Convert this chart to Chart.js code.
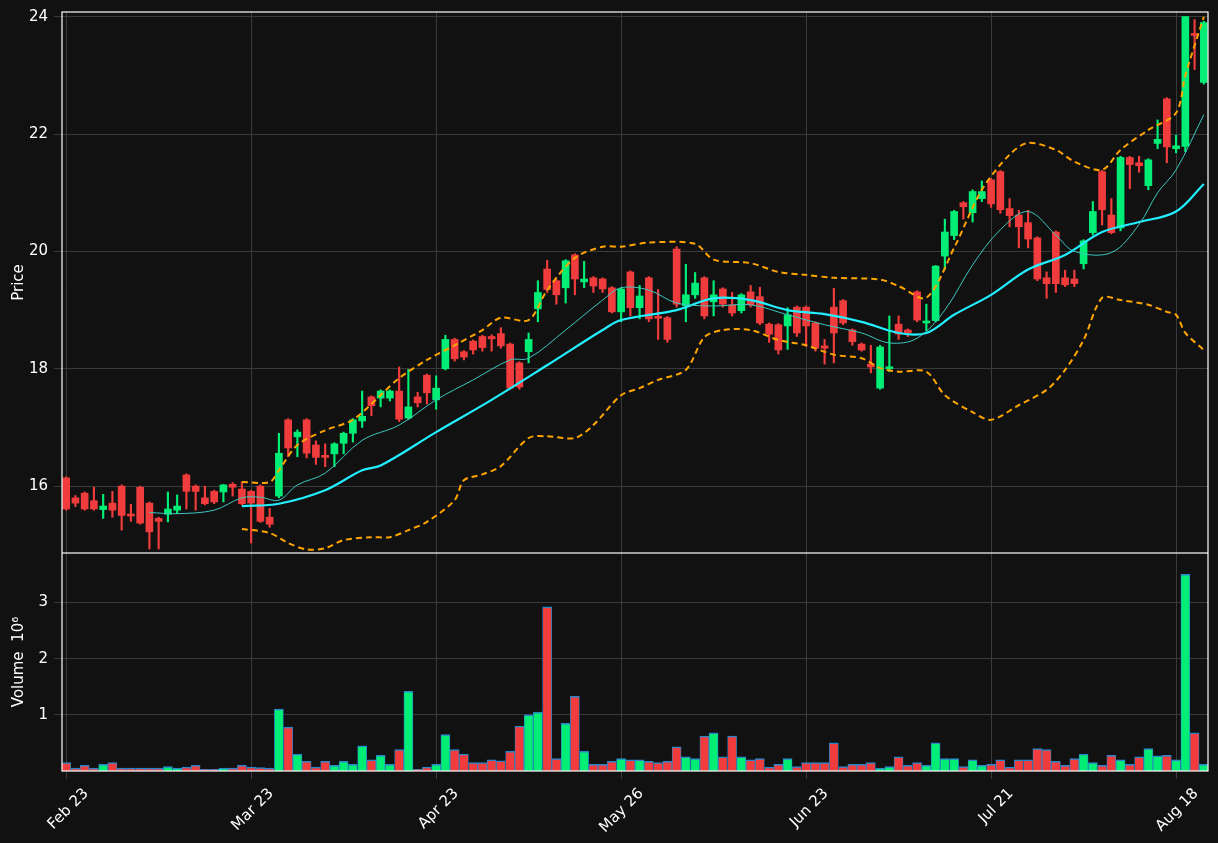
<!DOCTYPE html>
<html><head><meta charset="utf-8">
<script src="https://cdn.jsdelivr.net/npm/chart.js@4.4.1/dist/chart.umd.min.js"></script>
<style>
html,body{margin:0;padding:0;background:#111111;}
#wrap{position:relative;width:1218px;height:843px;}
#c1{position:absolute;left:0;top:0;}
#c2{position:absolute;left:0;top:553px;}
</style></head><body>
<div id="wrap"><canvas id="c1" width="1218" height="553"></canvas><canvas id="c2" width="1218" height="290"></canvas></div>
<script>
const tickLabels = ['Feb 23','Mar 23','Apr 23','May 26','Jun 23','Jul 21','Aug 18'];
const opens = [16.14,15.8,15.88,15.75,15.6,15.71,16.0,15.52,15.98,15.71,15.45,15.52,15.59,16.19,16.0,15.8,15.91,15.9,16.03,15.95,
15.91,16.0,15.47,15.83,17.13,16.84,17.13,16.7,16.51,16.55,16.73,16.9,17.11,17.52,17.5,17.5,17.62,17.16,17.52,17.89,
17.47,18.0,18.5,18.29,18.47,18.55,18.55,18.6,18.42,18.1,18.29,19.02,19.7,19.5,19.38,19.94,19.48,19.55,19.53,19.38,
18.97,19.65,19.04,19.55,18.88,18.87,20.04,19.07,19.26,19.55,19.14,19.36,19.09,18.99,19.31,19.23,18.76,18.75,18.73,19.05,
19.05,18.78,18.39,19.05,19.16,18.66,18.42,18.08,17.67,18.0,18.76,18.66,19.31,18.78,18.82,19.92,20.27,20.83,20.66,20.9,
21.22,21.36,20.73,20.62,20.49,20.23,19.55,20.33,19.55,19.53,19.79,20.32,21.36,20.62,20.4,21.6,21.51,21.12,21.84,22.6,
21.75,21.79,23.7,22.88];
const closes = [15.61,15.71,15.61,15.61,15.66,15.59,15.5,15.49,15.37,15.22,15.4,15.61,15.66,15.91,15.91,15.7,15.73,16.02,15.98,15.7,
15.71,15.4,15.35,16.56,16.65,16.92,16.56,16.49,16.49,16.72,16.9,17.13,17.19,17.37,17.62,17.62,17.14,17.35,17.42,17.59,
17.67,18.5,18.17,18.2,18.32,18.36,18.51,18.39,17.67,17.69,18.5,19.3,19.35,19.26,19.84,19.53,19.53,19.41,19.36,18.97,
19.36,19.04,19.24,18.85,18.86,18.5,19.1,19.26,19.46,18.9,19.26,19.1,18.95,19.26,19.09,18.78,18.59,18.32,18.92,18.61,
18.73,18.35,18.35,18.61,18.78,18.46,18.32,18.03,18.37,18.03,18.59,18.61,18.83,18.8,19.75,20.33,20.68,20.76,21.02,21.02,
20.81,20.71,20.61,20.42,20.21,19.53,19.45,19.45,19.43,19.45,20.18,20.68,20.71,20.32,21.6,21.48,21.46,21.56,21.91,21.78,
21.8,24.0,23.68,23.9];
const highs = [16.16,15.84,15.9,15.98,15.86,15.91,16.02,15.69,16.0,15.73,15.47,15.9,15.85,16.21,16.02,16.0,15.93,16.03,16.06,16.07,
15.93,16.02,15.62,16.9,17.15,16.96,17.15,16.77,16.72,16.74,16.92,17.15,17.62,17.54,17.64,17.64,18.03,17.99,17.6,17.91,
17.88,18.57,18.52,18.31,18.49,18.57,18.58,18.7,18.44,18.12,18.61,19.5,19.85,19.52,19.86,19.96,19.83,19.57,19.55,19.4,
19.38,19.67,19.42,19.57,19.35,18.89,20.08,19.78,19.64,19.57,19.5,19.38,19.3,19.28,19.42,19.39,18.78,18.77,19.04,19.07,
19.07,18.8,18.5,19.37,19.18,18.68,18.44,18.4,18.4,18.9,18.9,18.68,19.33,19.1,19.76,20.55,20.7,20.85,21.05,21.2,
21.24,21.38,20.9,20.7,20.7,20.25,19.65,20.35,19.68,19.68,20.2,20.85,21.38,20.9,21.62,21.62,21.62,21.58,22.24,22.62,
21.98,24.0,23.95,23.92];
const lows = [15.59,15.65,15.59,15.59,15.45,15.47,15.25,15.4,15.35,14.93,14.93,15.39,15.53,15.61,15.59,15.68,15.7,15.73,15.83,15.68,
15.03,15.38,15.3,15.8,16.5,16.5,16.48,16.37,16.33,16.33,16.55,16.75,17.0,17.2,17.35,17.45,17.1,17.14,17.35,17.4,
17.31,17.98,18.13,18.15,18.25,18.3,18.3,18.35,17.65,17.65,18.1,18.8,19.3,19.1,19.12,19.26,19.38,19.3,19.3,18.95,
18.8,18.9,18.85,18.8,18.5,18.45,19.05,18.8,19.2,18.85,18.9,19.05,18.9,18.95,19.05,18.75,18.45,18.25,18.33,18.55,
18.38,18.3,18.08,18.1,18.75,18.4,18.3,17.93,17.65,17.95,18.5,18.55,18.8,18.65,18.8,19.7,20.2,20.55,20.5,20.85,
20.75,20.65,20.42,20.06,20.06,19.5,19.2,19.3,19.4,19.4,19.7,20.28,20.45,20.3,20.35,21.07,21.35,21.05,21.75,21.51,
21.68,21.7,23.1,22.85];
const volumes = [0.15,0.05,0.1,0.05,0.12,0.15,0.05,0.05,0.05,0.05,0.05,0.08,0.05,0.07,0.1,0.03,0.03,0.05,0.05,0.1,
0.07,0.06,0.05,1.1,0.78,0.3,0.17,0.07,0.17,0.1,0.17,0.12,0.45,0.2,0.28,0.12,0.38,1.42,0.03,0.07,
0.12,0.65,0.38,0.3,0.15,0.15,0.2,0.18,0.35,0.8,1.0,1.05,2.92,0.22,0.85,1.33,0.35,0.12,0.12,0.17,
0.22,0.2,0.2,0.17,0.15,0.17,0.43,0.25,0.22,0.62,0.68,0.25,0.62,0.25,0.2,0.22,0.07,0.12,0.22,0.08,
0.15,0.15,0.15,0.5,0.08,0.12,0.12,0.15,0.05,0.08,0.25,0.1,0.15,0.1,0.5,0.22,0.22,0.08,0.2,0.1,
0.12,0.2,0.07,0.2,0.2,0.4,0.38,0.17,0.1,0.22,0.3,0.15,0.1,0.28,0.2,0.12,0.25,0.4,0.27,0.28,
0.2,3.5,0.68,0.12];
const ma20Idx = [19,23,28,32,34,40,46,52,58,60,66,70,74,78,82,86,90,93,96,100,104,108,112,116,120,123];
const ma20Val = [15.66,15.7,15.93,16.27,16.35,16.92,17.47,18.06,18.66,18.83,19.0,19.2,19.17,19.0,18.93,18.8,18.61,18.61,18.92,19.26,19.69,19.94,20.33,20.5,20.68,21.15];
const ma10Idx = [9,12,16,19,21,23,25,28,32,36,40,44,48,50,54,58,60,63,66,70,74,78,82,86,89,92,95,98,101,104,107,109,113,116,118,120,123];
const ma10Val = [15.55,15.53,15.59,15.8,15.81,15.76,16.02,16.22,16.78,17.04,17.47,17.81,18.15,18.18,18.66,19.17,19.38,19.34,19.12,19.07,19.09,18.92,18.75,18.61,18.44,18.52,19.0,19.77,20.37,20.68,20.28,20.0,19.98,20.46,21.0,21.39,22.33];
const upIdx = [19,22,23,25,28,31,34,36,39,42,45,47,50,52,55,58,60,63,68,70,74,77,80,83,88,90,93,96,99,102,104,107,109,112,114,117,120,121,123];
const upVal = [16.07,16.07,16.27,16.7,16.95,17.13,17.55,17.84,18.15,18.4,18.66,18.87,18.83,19.34,19.89,20.08,20.08,20.15,20.13,19.86,19.8,19.65,19.6,19.55,19.52,19.41,19.21,20.06,21.05,21.65,21.85,21.73,21.53,21.39,21.73,22.07,22.36,23.0,24.0];
const loIdx = [19,22,24,26,28,30,33,35,37,39,42,43,45,47,50,52,55,57,60,62,64,67,69,71,74,77,80,83,86,88,90,93,95,98,100,103,106,108,110,112,114,117,119,120,121,123];
const loVal = [15.27,15.2,15.03,14.92,14.94,15.08,15.13,15.13,15.25,15.39,15.76,16.1,16.2,16.34,16.82,16.85,16.82,17.04,17.55,17.67,17.81,17.98,18.54,18.66,18.66,18.49,18.4,18.24,18.18,18.01,17.95,17.95,17.55,17.26,17.13,17.38,17.64,17.98,18.49,19.21,19.17,19.09,18.97,18.92,18.61,18.32];

const UP='#00ee76', DOWN='#f03c3c';
const idx = opens.map((_,i)=>i);
const col = idx.map(i=> closes[i]>=opens[i]?UP:DOWN);
const pts = (xs,ys)=>xs.map((x,k)=>({x:x,y:ys[k]}));
const XMIN=-0.45, XMAX=123.45;
const font={family:'DejaVu Sans',size:15};
const frame={id:'frame',afterDraw(c){const a=c.chartArea,g=c.ctx;g.save();g.strokeStyle='#ffffff';g.lineWidth=1.2;g.strokeRect(a.left,a.top,a.right-a.left,a.bottom-a.top);g.restore();}};
const gridCfg={color:'#3a3a3a',borderDash:[5,4],lineWidth:1,offset:false};
const noPad=a=>{a.paddingTop=0;a.paddingBottom=0;a.paddingLeft=0;a.paddingRight=0;};

new Chart(document.getElementById('c1'),{
  data:{datasets:[
    {type:'bar',data:idx.map(i=>({x:i,y:[lows[i],highs[i]]})),backgroundColor:col,barThickness:1.5,grouped:false,order:3},
    {type:'bar',data:idx.map(i=>({x:i,y:[opens[i],closes[i]]})),backgroundColor:col,barThickness:7,minBarLength:2,grouped:false,order:2},
    {type:'line',data:pts(ma10Idx,ma10Val),borderColor:'#3ec8c0',borderWidth:1,pointRadius:0,tension:0.35,order:1},
    {type:'line',data:pts(ma20Idx,ma20Val),borderColor:'#22f0ff',borderWidth:2.2,pointRadius:0,tension:0.35,order:1},
    {type:'line',data:pts(upIdx,upVal),borderColor:'#ffa500',borderWidth:2,borderDash:[6,4],pointRadius:0,tension:0.3,order:1},
    {type:'line',data:pts(loIdx,loVal),borderColor:'#ffa500',borderWidth:2,borderDash:[6,4],pointRadius:0,tension:0.3,order:1}
  ]},
  options:{responsive:false,animation:false,layout:{padding:{top:12,right:10,bottom:0,left:0}},
    plugins:{legend:{display:false},tooltip:{enabled:false}},
    scales:{
      x:{type:'linear',offset:false,min:XMIN,max:XMAX,afterBuildTicks(a){a.ticks=[0,20,40,60,80,100,120].map(v=>({value:v}));},
        ticks:{display:false},grid:{...gridCfg,drawTicks:false},border:{display:false},afterFit(a){a.height=0;noPad(a);}},
      y:{min:14.86,max:24.08,afterBuildTicks(a){a.ticks=[16,18,20,22,24].map(v=>({value:v}));},
        ticks:{color:'#ffffff',font:font,padding:6},grid:gridCfg,border:{display:false},
        title:{display:true,text:'Price',color:'#ffffff',font:font,padding:{top:10,bottom:2}},afterFit(a){a.width=62;noPad(a);}}
    }},
  plugins:[frame]
});

new Chart(document.getElementById('c2'),{
  data:{datasets:[
    {type:'bar',data:idx.map(i=>({x:i,y:volumes[i]})),backgroundColor:col,borderColor:'#2a86c8',borderWidth:{top:1.5,left:0.8,right:0.8,bottom:0},barThickness:9,grouped:false}
  ]},
  options:{responsive:false,animation:false,layout:{padding:{top:0,right:10,bottom:0,left:0}},
    plugins:{legend:{display:false},tooltip:{enabled:false}},
    scales:{
      x:{type:'linear',offset:false,min:XMIN,max:XMAX,afterBuildTicks(a){a.ticks=[0,20,40,60,80,100,120].map(v=>({value:v}));},
        ticks:{color:'#ffffff',font:font,maxRotation:45,minRotation:45,labelOffset:20,padding:6,callback:(v)=>tickLabels[v/20]},
        grid:gridCfg,border:{display:false},afterFit(a){a.height=72;noPad(a);}},
      y:{min:0,max:3.88,afterBuildTicks(a){a.ticks=[1,2,3].map(v=>({value:v}));},
        ticks:{color:'#ffffff',font:font,padding:6},grid:gridCfg,border:{display:false},
        title:{display:true,text:'Volume  10\u2076',color:'#ffffff',font:font,padding:{top:10,bottom:2}},afterFit(a){a.width=62;noPad(a);}}
    }},
  plugins:[frame]
});
</script></body></html>
